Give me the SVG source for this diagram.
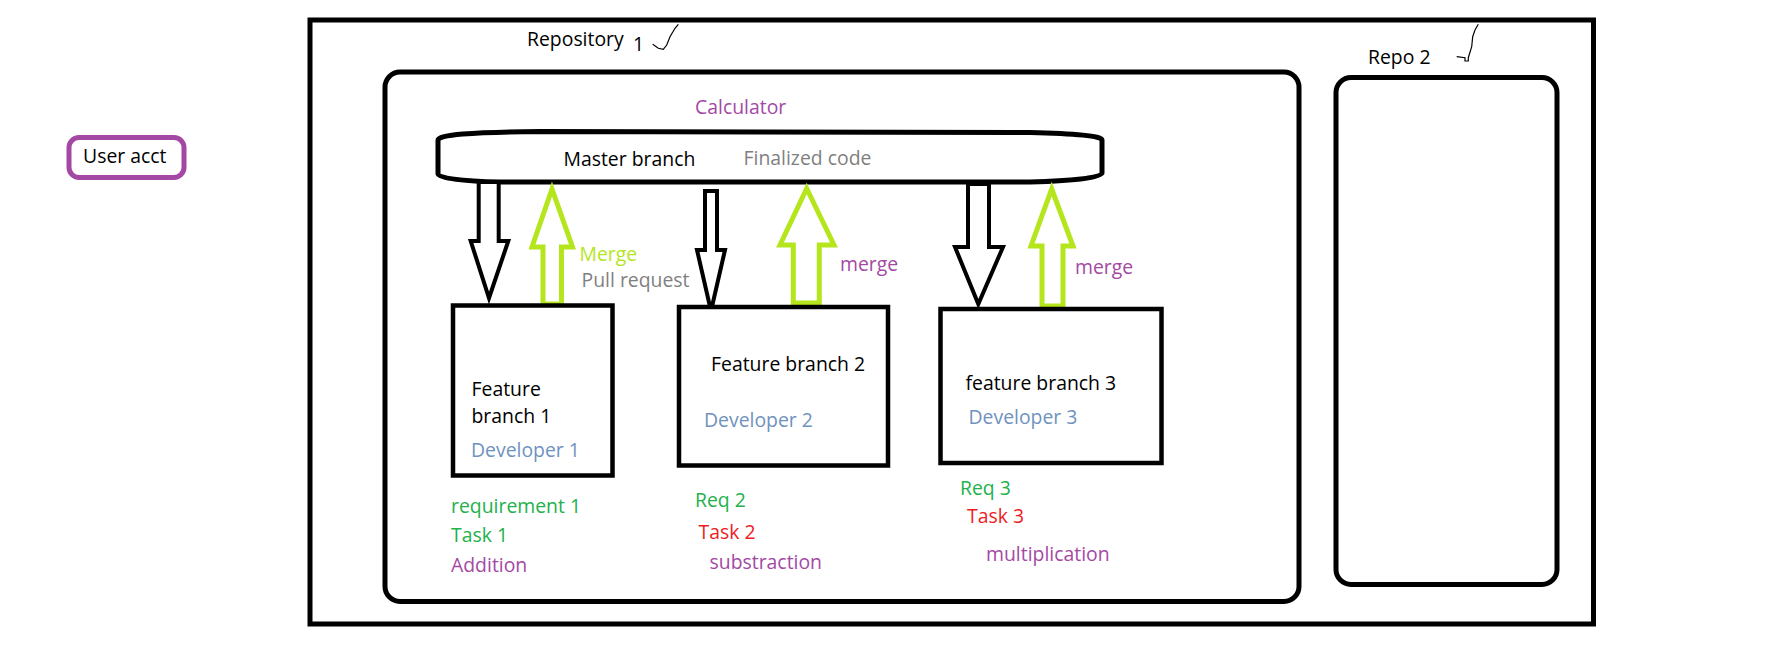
<svg xmlns="http://www.w3.org/2000/svg" width="1790" height="648" viewBox="0 0 1790 648">
<style>
text{font-family:"Open Sans","Noto Sans","Liberation Sans",sans-serif;font-size:19.4px;fill:#000}
.box{fill:none;stroke:#000;stroke-width:5}
.fb{fill:#fff;stroke:#000;stroke-width:4.5}
.down{fill:#fff;stroke:#000;stroke-width:4;stroke-linejoin:miter}
.up{fill:#fff;stroke:#B5E61D;stroke-width:5;stroke-linejoin:miter}
.thin{fill:none;stroke:#000;stroke-width:1.2}
.pur{fill:#A349A4}.grn{fill:#22B14C}.red{fill:#ED1C24}.blu{fill:#7092BE}.gry{fill:#7F7F7F}.lime{fill:#B5E61D}
</style>
<rect width="1790" height="648" fill="#fff"/>
<g id="user-acct">
<rect x="69" y="137.5" width="115" height="40" rx="10" fill="none" stroke="#A349A4" stroke-width="5"/>
<text x="83" y="163">User acct</text>
</g>
<g id="repository-1">
<rect class="box" x="310" y="20" width="1283.5" height="604"/>
<text x="527" y="46">Repository</text>
<text x="633" y="51">1</text>
<path class="thin" d="M652.7,44.3 L658.3,48.3 L663.3,49.3 L666.7,45 L670,36.7 L675,28.3 L678.3,24.3"/>
</g>
<g id="calculator">
<rect class="box" x="385" y="72" width="914" height="529.5" rx="15"/>
<text class="pur" x="695" y="114">Calculator</text>
</g>
<g id="master-branch">
<path class="box" d="M540,131.5 L1030,132.5 C1075,133.5 1102,136 1102,140 L1102,173 C1102,178 1070,181 1030,182 L500,182 C460,181 438,178 438,174 L438,140 C438,135 470,132 540,131.5 Z"/>
<text x="563.5" y="165.5">Master branch</text>
<text class="gry" x="743.5" y="164.5">Finalized code</text>
</g>
<g id="repo-2">
<rect class="box" x="1336" y="77.5" width="221" height="507" rx="15"/>
<text x="1368" y="63.5">Repo 2</text>
<path class="thin" d="M1456.7,56.7 L1465,57.7 L1465,61 L1468.3,61 L1468.3,57.7 L1471.7,46.7 L1472.7,36.7 L1475,30 L1478.3,24.3"/>
</g>
<g id="connectors">
<polygon class="down" points="478.7,182 498.7,182 498.7,241 508.3,241 489,298 470.7,241 478.7,241"/>
<polygon class="up" points="552,189 572.5,247 561.5,247 561.5,304 543,304 543,247 532,247"/>
<polygon class="down" points="705,191 717,191 717,250 725,250 711,311 697,250 705,250"/>
<polygon class="up" points="806.7,188.5 834,245 819.3,245 819.3,303 793.3,303 793.3,245 780,245"/>
<polygon class="down" points="968,184 989,184 989,247 1003,247 978.3,304 955,247 968,247"/>
<polygon class="up" points="1051.7,189 1073,246 1063,246 1063,306 1042,306 1042,246 1031,246"/>
<text class="lime" x="579.5" y="260.5">Merge</text>
<text class="gry" x="581.5" y="286.5">Pull request</text>
<text class="pur" x="840" y="271">merge</text>
<text class="pur" x="1075" y="274">merge</text>
</g>
<g id="feature-branch-1">
<rect class="fb" x="453" y="305.5" width="159.5" height="170"/>
<text x="471.5" y="396">Feature</text>
<text x="471.5" y="422.5">branch 1</text>
<text class="blu" x="471" y="456.5">Developer 1</text>
<text class="grn" x="451" y="512.5">requirement 1</text>
<text class="grn" x="451" y="542">Task 1</text>
<text class="pur" x="451" y="572">Addition</text>
</g>
<g id="feature-branch-2">
<rect class="fb" x="679" y="307" width="209" height="158.5"/>
<text x="711" y="371">Feature branch 2</text>
<text class="blu" x="704" y="427">Developer 2</text>
<text class="grn" x="695" y="506.5">Req 2</text>
<text class="red" x="698.5" y="539">Task 2</text>
<text class="pur" x="709.5" y="569">substraction</text>
</g>
<g id="feature-branch-3">
<rect class="fb" x="940.5" y="309" width="221" height="154"/>
<text x="965.5" y="390">feature branch 3</text>
<text class="blu" x="968.5" y="424">Developer 3</text>
<text class="grn" x="960" y="495">Req 3</text>
<text class="red" x="967" y="523">Task 3</text>
<text class="pur" x="986" y="561">multiplication</text>
</g>
</svg>
